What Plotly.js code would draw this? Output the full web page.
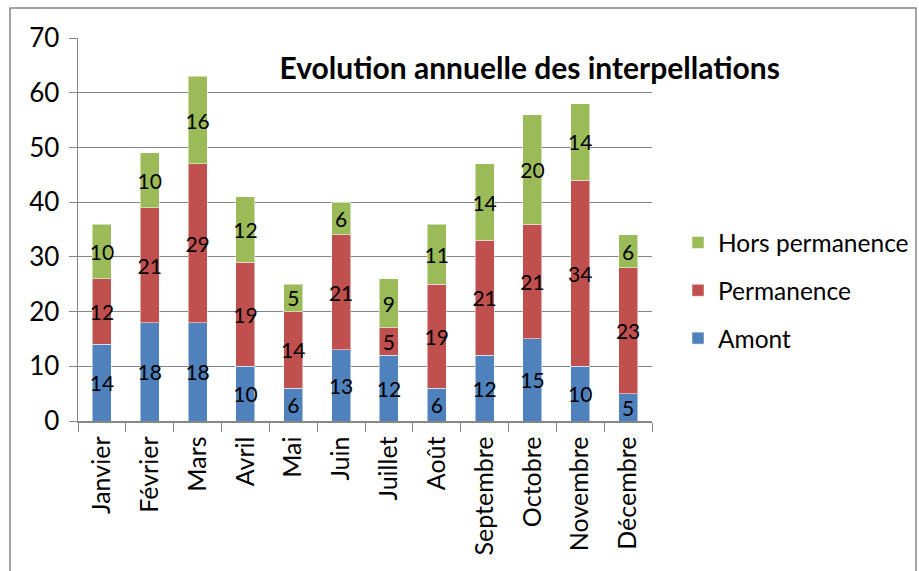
<!DOCTYPE html>
<html>
<head>
<meta charset="utf-8">
<script src="https://cdn.plot.ly/plotly-3.0.1.min.js"></script>
<style>html,body{margin:0;padding:0;background:#fff;}#chart{width:919px;height:571px;}</style>
</head>
<body>
<div id="chart"></div>
<script>
const months = ["Janvier","Février","Mars","Avril","Mai","Juin","Juillet","Août","Septembre","Octobre","Novembre","Décembre"];
const amont = [14,18,18,10,6,13,12,6,12,15,10,5];
const permanence = [12,21,29,19,14,21,5,19,21,21,34,23];
const horsPermanence = [10,10,16,12,5,6,9,11,14,20,14,6];

const FONT = "Lato, 'Open Sans', sans-serif";
function series(name, vals, color, group, rank) {
  return {
    type: 'bar', name: name, x: months, y: vals,
    text: vals.map(String), textposition: 'inside', insidetextanchor: 'middle',
    textangle: 0, constraintext: 'none',
    insidetextfont: {family: FONT, size: 21, color: '#000'},
    marker: {color: color, line: {color: 'rgba(255,255,255,0.5)', width: 1}},
    legendgroup: group, legendrank: rank, hoverinfo: 'skip'
  };
}
const data = [
  series('Amont', amont, '#4F81BD', 'a', 3),
  series('Permanence', permanence, '#C0504D', 'b', 2),
  series('Hors permanence', horsPermanence, '#9BBB59', 'c', 1)
];
const layout = {
  width: 919, height: 571,
  margin: {l: 78, r: 267, t: 38, b: 150, autoexpand: false},
  paper_bgcolor: '#fff', plot_bgcolor: '#fff',
  barmode: 'stack', bargap: 0.6,
  font: {family: FONT, size: 24, color: '#000'},
  title: {text: '<b>Evolution annuelle des interpellations</b>', x: 0.787, xref: 'paper', xanchor: 'center',
          y: 1 - 68/571, yanchor: 'middle', font: {family: FONT, size: 30, color: '#000'}},
  xaxis: {type: 'category', tickson: 'boundaries', ticks: 'outside', ticklen: 9, tickcolor: '#868686',
          showline: true, linecolor: '#868686', linewidth: 1.5, tickangle: -90, showgrid: false,
          ticklabelstandoff: 4,
          tickfont: {family: FONT, size: 25, color: '#000'}, fixedrange: true},
  yaxis: {range: [0, 70], dtick: 10, ticks: 'outside', ticklen: 8, tickcolor: '#868686',
          showline: true, linecolor: '#868686', linewidth: 1.5, gridcolor: '#868686', gridwidth: 1.2,
          zeroline: false, ticklabelstandoff: 4,
          tickfont: {family: FONT, size: 26, color: '#000'}, fixedrange: true},
  legend: {x: (678-78)/574, xanchor: 'left', y: (421-220)/383, yanchor: 'top',
           traceorder: 'grouped', tracegroupgap: 13,
           font: {family: FONT, size: 24.5, color: '#000'}, bgcolor: 'rgba(0,0,0,0)'},
  shapes: [{type: 'rect', xref: 'paper', yref: 'paper',
            x0: (10-78)/574, x1: (916-78)/574, y0: (421-580)/383, y1: (421-8)/383,
            line: {color: '#868686', width: 1.5}, fillcolor: 'rgba(0,0,0,0)', layer: 'below'}]
};
Plotly.newPlot('chart', data, layout, {displayModeBar: false, staticPlot: true});
</script>
</body>
</html>
